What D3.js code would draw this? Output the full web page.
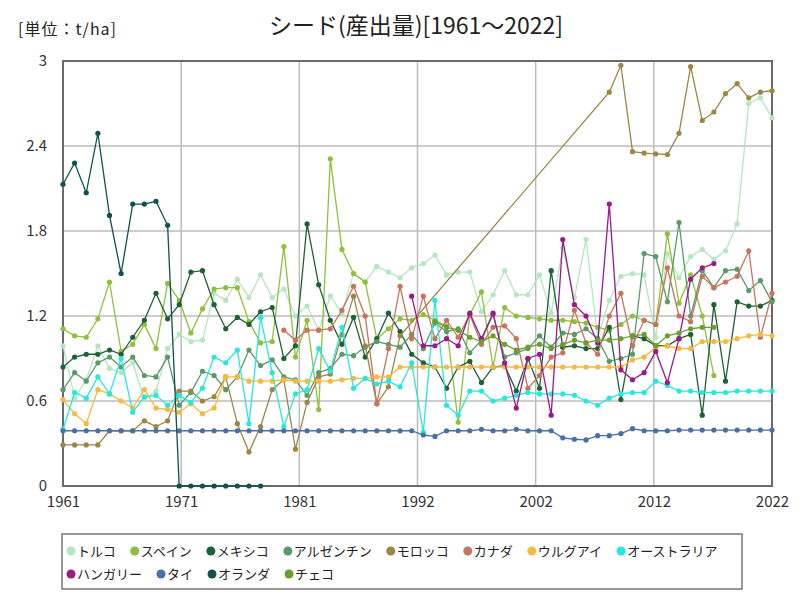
<!DOCTYPE html>
<html><head><meta charset="utf-8">
<script src="https://cdn.jsdelivr.net/npm/d3@7/dist/d3.min.js"></script>
<style>
html,body{margin:0;padding:0;background:#fff;}
svg{display:block;font-family:"Noto Sans CJK JP","Noto Sans",sans-serif;}
</style></head>
<body><svg id="c" width="800" height="600"></svg>
<script>
const years = d3.range(1961, 2023);
const xTickLabels = ["1961","1971","1981","1992","2002","2012","2022"];
const yTickValues = [0, 0.6, 1.2, 1.8, 2.4, 3];
const yTickLabels = ["0","0.6","1.2","1.8","2.4","3"];
const seriesNames = ["トルコ","スペイン","メキシコ","アルゼンチン","モロッコ","カナダ","ウルグアイ","オーストラリア","ハンガリー","タイ","オランダ","チェコ"];
const seriesColors = ["#b5e6c0","#8fc03c","#1f6035","#5a9a68","#9c8645","#c8735a","#f5b942","#26e8dc","#9a1a8a","#4a6fa5","#0f5050","#6a9f30"];
const N = null;
const turkey = [0.99,0.62,0.75,0.99,0.83,0.80,0.87,0.61,0.67,0.97,1.07,1.02,1.03,1.36,1.31,1.46,1.33,1.49,1.33,1.39,1.20,1.27,1.10,1.34,1.22,1.50,1.44,1.55,1.51,1.47,1.54,1.57,1.63,1.49,1.51,1.51,1.23,1.35,1.52,1.35,1.35,1.49,1.22,1.68,1.33,1.74,1.05,1.31,1.48,1.50,1.49,1.05,1.64,1.47,1.62,1.67,1.60,1.66,1.85,2.70,2.74,2.60];
const spain = [1.11,1.06,1.05,1.18,1.44,0.95,1.00,1.14,0.97,1.43,1.31,1.08,1.25,1.39,1.40,1.40,1.16,1.01,1.02,1.69,0.91,1.17,0.54,2.31,1.67,1.50,1.44,1.04,1.11,1.18,1.17,1.21,1.17,1.13,0.45,1.21,1.37,0.84,1.26,1.20,1.19,1.18,1.17,1.17,1.16,1.15,1.12,1.10,1.14,1.20,1.17,1.14,1.78,1.29,1.49,1.20,0.78,N,N,N,N,N];
const mexico = [0.84,0.91,0.93,0.93,0.96,0.93,1.05,1.17,1.36,1.18,1.28,1.51,1.52,1.28,1.11,1.19,1.14,1.23,1.26,0.90,0.99,1.85,1.42,1.17,1.00,1.19,0.91,1.04,1.22,1.09,0.93,0.87,0.84,0.69,0.84,0.88,0.73,0.84,0.85,0.67,0.90,0.69,1.52,0.98,0.99,0.97,0.97,1.12,0.61,1.06,1.04,0.99,0.99,1.04,1.07,0.50,1.28,0.74,1.30,1.27,1.27,1.31];
const argentina = [0.68,0.80,0.74,0.87,0.91,0.84,0.91,0.78,0.77,0.91,0.57,0.66,0.81,0.78,0.68,0.77,0.96,0.85,0.89,0.77,0.75,0.64,0.80,0.83,0.93,0.92,0.98,1.02,1.00,0.98,1.07,0.97,1.15,1.09,1.11,0.94,1.03,1.21,0.91,0.94,0.97,1.06,0.98,1.08,1.07,1.11,1.04,0.88,0.90,0.93,1.64,1.62,1.30,1.86,1.20,1.52,1.40,1.52,1.53,1.38,1.45,1.30];
const morocco = [0.29,0.29,0.29,0.29,0.39,0.39,0.39,0.46,0.42,0.46,0.67,0.67,0.60,0.63,0.77,0.44,0.24,0.42,0.68,0.75,0.26,0.59,0.77,0.79,1.07,1.34,0.99,0.58,0.70,1.06,N,N,N,N,N,N,N,N,N,N,N,N,N,N,N,N,N,2.78,2.97,2.36,2.35,2.345,2.34,2.49,2.96,2.58,2.64,2.77,2.84,2.74,2.78,2.79];
const canada = [N,N,N,N,N,N,N,N,N,N,N,N,N,N,N,N,N,N,N,1.10,1.03,1.10,1.10,1.11,1.24,1.41,1.20,0.58,0.97,1.41,1.04,1.34,1.04,1.17,1.05,1.21,1.00,1.12,1.13,1.04,0.69,0.78,0.91,0.94,1.24,1.01,0.93,1.20,1.36,0.99,1.17,1.14,1.54,1.20,1.16,1.48,1.40,1.44,1.48,1.66,1.05,1.36];
const uruguay = [0.61,0.51,0.44,0.68,0.65,0.60,0.55,0.68,0.55,0.54,0.52,0.58,0.51,0.55,0.77,0.77,0.74,0.74,0.74,0.75,0.74,0.74,0.74,0.74,0.75,0.76,0.76,0.77,0.77,0.84,0.84,0.84,0.84,0.84,0.84,0.84,0.84,0.84,0.84,0.84,0.84,0.84,0.84,0.84,0.84,0.84,0.84,0.84,0.84,0.89,0.91,0.98,0.99,0.97,0.97,1.02,1.02,1.02,1.04,1.06,1.07,1.06];
const australia = [0.40,0.66,0.62,0.77,0.65,0.90,0.52,0.63,0.64,0.57,0.64,0.59,0.69,0.91,0.87,0.96,0.44,1.19,0.80,0.42,0.65,0.68,0.97,0.81,1.12,0.69,0.76,0.72,0.74,0.70,0.87,0.38,1.31,0.57,0.50,0.67,0.67,0.60,0.62,0.64,0.66,0.65,0.65,0.65,0.64,0.60,0.57,0.62,0.65,0.66,0.66,0.74,0.71,0.67,0.67,0.66,0.66,0.66,0.67,0.67,0.67,0.67];
const hungary = [N,N,N,N,N,N,N,N,N,N,N,N,N,N,N,N,N,N,N,N,N,N,N,N,N,N,N,N,N,N,1.34,0.99,0.99,1.04,0.99,1.22,1.04,1.22,0.87,0.55,0.90,0.93,0.50,1.74,1.28,1.20,1.01,1.99,0.82,0.75,0.80,0.95,0.73,1.04,1.46,1.54,1.57,N,N,N,N,N];
const thailand = [0.39,0.39,0.39,0.39,0.39,0.39,0.39,0.39,0.39,0.39,0.39,0.39,0.39,0.39,0.39,0.39,0.39,0.39,0.39,0.39,0.39,0.39,0.39,0.39,0.39,0.39,0.39,0.39,0.39,0.39,0.39,0.36,0.35,0.39,0.39,0.39,0.40,0.39,0.39,0.40,0.39,0.39,0.39,0.34,0.33,0.325,0.355,0.355,0.37,0.405,0.39,0.39,0.39,0.395,0.395,0.395,0.395,0.395,0.395,0.395,0.395,0.395];
const netherlands = [2.13,2.28,2.07,2.49,1.91,1.50,1.99,1.99,2.01,1.84,0,0,0,0,0,0,0,0,N,N,N,N,N,N,N,N,N,N,N,N,N,N,N,N,N,N,N,N,N,N,N,N,N,N,N,N,N,N,N,N,N,N,N,N,N,N,N,N,N,N,N,N];
const czech = [N,N,N,N,N,N,N,N,N,N,N,N,N,N,N,N,N,N,N,N,N,N,N,N,N,N,N,N,N,N,N,N,1.16,1.12,1.10,1.05,1.02,1.06,1.00,0.96,0.98,1.00,0.97,1.00,1.03,1.01,1.03,1.03,1.04,1.06,1.07,0.99,1.06,1.08,1.11,1.12,1.12,N,N,N,N,N];
const seriesValues = [turkey,spain,mexico,argentina,morocco,canada,uruguay,australia,hungary,thailand,netherlands,czech];

const svg = d3.select("#c");
const L = 63, R = 772, T = 61, B = 486;
const x = d3.scaleLinear().domain([1961, 2022]).range([L, R]);
const y = d3.scaleLinear().domain([0, 3]).range([B, T]);
const xTickValues = d3.range(7).map(i => 1961 + i * 61 / 6);

// grid
svg.append("g").selectAll("line").data(xTickValues).join("line")
  .attr("x1", d => x(d)).attr("x2", d => x(d)).attr("y1", T).attr("y2", B)
  .attr("stroke", "#bcbcbc").attr("stroke-width", 1.5);
svg.append("g").selectAll("line").data(yTickValues).join("line")
  .attr("x1", L).attr("x2", R).attr("y1", d => y(d)).attr("y2", d => y(d))
  .attr("stroke", "#bcbcbc").attr("stroke-width", 1.5);

// axes
const xAxis = svg.append("g").attr("transform", `translate(0,${B})`)
  .call(d3.axisBottom(x).tickValues(xTickValues).tickFormat((d, i) => xTickLabels[i]).tickSize(0).tickPadding(10));
const yAxis = svg.append("g").attr("transform", `translate(${L},0)`)
  .call(d3.axisLeft(y).tickValues(yTickValues).tickFormat((d, i) => yTickLabels[i]).tickSize(0).tickPadding(16));
[xAxis, yAxis].forEach(a => {
  a.select(".domain").remove();
  a.selectAll("text").attr("font-size", 15).attr("fill", "#333").attr("font-family", "'Noto Sans CJK JP',sans-serif");
});
// frame
svg.append("rect").attr("x", L).attr("y", T).attr("width", R - L).attr("height", B - T)
  .attr("fill", "none").attr("stroke", "#6a6a6a").attr("stroke-width", 2);

// series
const line = d3.line().x(d => x(d.year)).y(d => y(d.v));
seriesValues.forEach((vals, si) => {
  const pts = years.map((yr, i) => ({year: yr, v: vals[i]})).filter(d => d.v !== null);
  const g = svg.append("g");
  g.append("path").datum(pts).attr("d", line).attr("fill", "none")
    .attr("stroke", seriesColors[si]).attr("stroke-width", 1.3);
  g.selectAll("circle").data(pts).join("circle")
    .attr("cx", d => x(d.year)).attr("cy", d => y(d.v)).attr("r", 2.6)
    .attr("fill", seriesColors[si]);
});

// title
svg.append("text").attr("x", 416).attr("y", 34).attr("text-anchor", "middle")
  .attr("font-size", 23).attr("fill", "#222").text("シード(産出量)[1961～2022]");
svg.append("text").attr("x", 18).attr("y", 35).attr("font-size", 16).attr("letter-spacing", 1).attr("fill", "#222").text("[単位：t/ha]");

// legend
svg.append("rect").attr("x", 62).attr("y", 534).attr("width", 680).attr("height", 55)
  .attr("fill", "#fff").attr("stroke", "#777").attr("stroke-width", 1.5);
const rows = [[0,1,2,3,4,5,6,7],[8,9,10,11]];
rows.forEach((row, ri) => {
  let cx = 71;
  const cy = 551 + ri * 23;
  row.forEach(si => {
    svg.append("circle").attr("cx", cx).attr("cy", cy).attr("r", 4.5).attr("fill", seriesColors[si]);
    const t = svg.append("text").attr("x", cx + 6).attr("y", cy + 5).attr("font-size", 13)
      .attr("fill", "#222").text(seriesNames[si]);
    cx += 6 + t.node().getComputedTextLength() + 19;
  });
});
</script></body></html>
